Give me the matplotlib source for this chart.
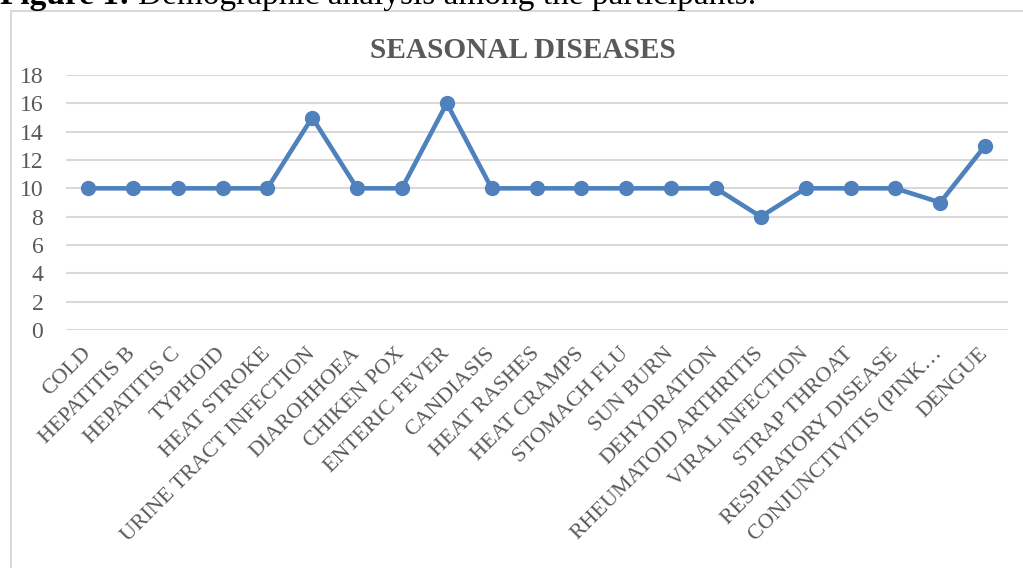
import matplotlib
matplotlib.use("Agg")
import matplotlib.pyplot as plt
from matplotlib.patches import Rectangle

categories = [
    "COLD", "HEPATITIS B", "HEPATITIS C", "TYPHOID", "HEAT STROKE",
    "URINE TRACT INFECTION", "DIAROHHOEA", "CHIKEN POX", "ENTERIC FEVER",
    "CANDIASIS", "HEAT RASHES", "HEAT CRAMPS", "STOMACH FLU", "SUN BURN",
    "DEHYDRATION", "RHEUMATOID ARTHRITIS", "VIRAL INFECTION", "STRAP THROAT",
    "RESPIRATORY DISEASE", "CONJUNCTIVITIS (PINK\u2026", "DENGUE",
]
values = [10, 10, 10, 10, 10, 15, 10, 10, 16, 10, 10, 10, 10, 10, 10, 8, 10, 10, 10, 9, 13]
y_ticks = list(range(0, 20, 2))

W, H = 1023, 568
fig = plt.figure(figsize=(W / 100, H / 100), dpi=100)

# chart frame (runs past the right and bottom edges)
fig.patches.append(Rectangle((11 / W, -0.1), 1.2, 1 - 11 / H + 0.1,
                             transform=fig.transFigure, fill=False,
                             edgecolor="#D9D9D9", linewidth=1.5))

# caption above the chart
cap_y = 1 - 4 / H
t1 = fig.text(0.0, cap_y, "Figure 1:", fontfamily="Liberation Serif",
              fontweight="bold", fontsize=24, va="baseline", ha="left", color="black")
fig.canvas.draw()
bb = t1.get_window_extent()
fig.text(bb.x1 / W + 8 / W, cap_y, "Demographic analysis among the participants.",
         fontfamily="Liberation Serif", fontsize=24, va="baseline", ha="left", color="black")

ax = fig.add_axes([65.5 / W, 1 - 330 / H, (1007.5 - 65.5) / W, (330 - 75) / H])
x = list(range(len(categories)))
ax.plot(x, values, color="#4F81BD", linewidth=3.3, marker="o", markersize=10,
        solid_joinstyle="round", zorder=3)

ax.set_xlim(-0.5, len(categories) - 0.5)
ax.set_ylim(0, 18)
ax.set_yticks(y_ticks)
ax.yaxis.grid(True, color="#D9D9D9", linewidth=1.5)
ax.set_axisbelow(True)
for s in ax.spines.values():
    s.set_visible(False)
ax.tick_params(axis="both", length=0, colors="#595959")
ax.tick_params(axis="y", pad=16)
ax.set_yticklabels([str(v) for v in y_ticks], fontfamily="Liberation Serif",
                   fontsize=17, color="#595959")
ax.set_xticks(x)
ax.set_xticklabels(categories, rotation=45, rotation_mode="anchor", ha="right",
                   va="center", fontfamily="Liberation Serif", fontsize=15.8,
                   color="#595959")
ax.tick_params(axis="x", pad=15)

fig.text(523 / W, 1 - 50 / H, "SEASONAL DISEASES", fontfamily="Liberation Serif",
         fontweight="bold", fontsize=21.2, color="#595959", ha="center", va="center")

fig.savefig("out.png", dpi=100)
